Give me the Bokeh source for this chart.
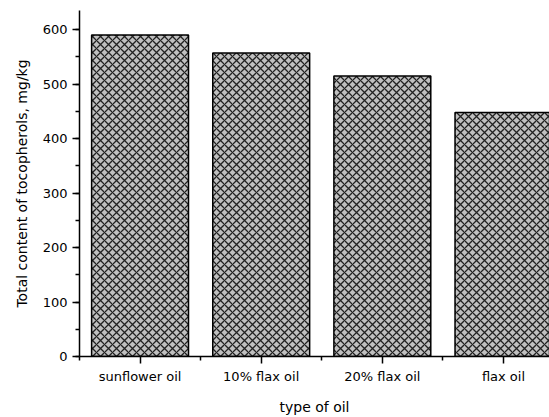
from bokeh.plotting import figure
from bokeh.models import FixedTicker, SingleIntervalTicker, Range1d, ColumnDataSource
from bokeh.embed import file_html
from bokeh.resources import INLINE

categories = ["sunflower oil", "10% flax oil", "20% flax oil", "flax oil"]
tocopherols = [590, 557, 515, 448]

x_pos = list(range(len(categories)))
src = ColumnDataSource(dict(x=x_pos, top=tocopherols, cat=categories))

p = figure(width=549, height=417, output_backend="svg", toolbar_location=None,
           x_range=Range1d(-0.5, 3.38), y_range=Range1d(0, 635),
           min_border_left=79, min_border_right=0, min_border_top=10, min_border_bottom=53)
p.outline_line_color = None
p.xgrid.visible = False
p.ygrid.visible = False
p.background_fill_color = "white"
p.border_fill_color = "white"

p.vbar(x="x", top="top", width=0.8, bottom=0, source=src,
       fill_color="#c0c0c0", line_color="#000000", line_width=1.5,
       hatch_pattern="diagonal_cross", hatch_color="#222222",
       hatch_scale=8, hatch_weight=1.3, hatch_alpha=1.0)

font = "DejaVu Sans"
xa = p.xaxis[0]
xa.ticker = FixedTicker(ticks=x_pos, minor_ticks=[-0.5, 0.5, 1.5, 2.5, 3.5])
xa.major_label_overrides = {i: c for i, c in enumerate(categories)}
xa.axis_label = "type of oil"
ya = p.yaxis[0]
ya.ticker = SingleIntervalTicker(interval=100, num_minor_ticks=2)
ya.axis_label = "Total content of tocopherols, mg/kg"

for ax in (xa, ya):
    ax.axis_line_width = 1.5
    ax.axis_line_color = "black"
    ax.major_tick_line_color = "black"
    ax.minor_tick_line_color = "black"
    ax.major_tick_line_width = 1.5
    ax.minor_tick_line_width = 1.5
    ax.major_tick_in = 0
    ax.major_tick_out = 7
    ax.minor_tick_in = 0
    ax.minor_tick_out = 4
    ax.major_label_text_font = font
    ax.major_label_text_font_size = "13px"
    ax.major_label_text_color = "black"
    ax.axis_label_text_font = font
    ax.axis_label_text_font_size = "14px"
    ax.axis_label_text_font_style = "normal"
    ax.axis_label_text_color = "black"

xa.major_label_standoff = 5
xa.axis_label_standoff = 12
ya.major_label_standoff = 5
ya.axis_label_standoff = 10

open("out.html", "w").write(file_html(p, INLINE))
